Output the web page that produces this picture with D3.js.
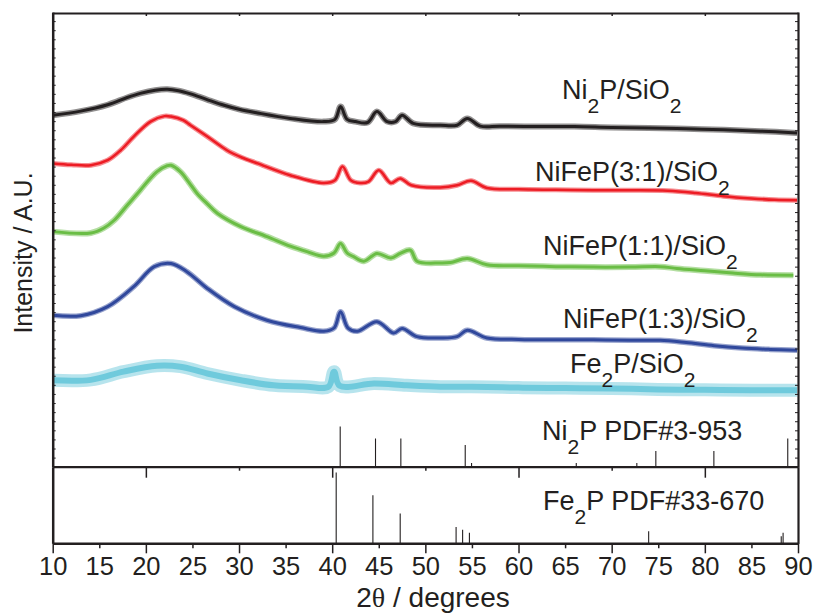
<!DOCTYPE html>
<html>
<head>
<meta charset="utf-8">
<script src="https://cdn.jsdelivr.net/npm/d3@7"></script>
<style>
  html, body { margin: 0; padding: 0; background: #fff; }
  svg { display: block; font-family: "Liberation Sans", Arial, Helvetica, sans-serif; }
</style>
</head>
<body>
<svg id="chart" width="819" height="614"></svg>
<script>
// ---------------- data ----------------
// 2θ tick labels
const xTicks = [10, 15, 20, 25, 30, 35, 40, 45, 50, 55, 60, 65, 70, 75, 80, 85, 90];

// XRD traces: [2θ (deg), intensity (a.u., stacked offsets included)]
const ni2pSiO2 = [
  [10, 77.3], [13, 78.2], [15.9, 79.6], [18, 81.2], [19.4, 82.1], [21, 82.8], [22.3, 83.0],
  [23.5, 82.7], [24.8, 82.0], [26.5, 80.8], [28.4, 79.5], [30, 78.6], [32, 77.8], [35.5, 76.6],
  [39.1, 75.9], [40.3, 76.4], [40.9, 79.2], [41.6, 76.4], [42.5, 75.9], [43.8, 75.7], [44.8, 78.1],
  [45.9, 75.9], [46.8, 75.9], [47.5, 77.3], [48.7, 75.5], [51.6, 75.1], [53.4, 75.1], [54.5, 76.6],
  [55.9, 74.9], [58, 74.9], [62, 74.8], [66, 74.8], [70, 74.6], [74, 74.5], [78, 74.3],
  [82, 74.1], [86, 73.8], [89.9, 73.4]
];
const nifep31SiO2 = [
  [10, 66.7], [12, 66.4], [14.1, 66.3], [15.9, 67.4], [17.3, 69.6], [18.7, 72.6], [20.5, 75.9],
  [22.0, 77.1], [22.7, 77.0], [24.0, 76.2], [24.8, 75.1], [26.6, 72.6], [28.7, 69.6], [30.3, 68.0],
  [32, 66.7], [35.5, 64.1], [39.1, 62.4], [40.3, 63.0], [41.1, 66.0], [42, 63.0], [43.0, 62.4],
  [43.9, 62.7], [45.0, 65.2], [46.3, 62.4], [47.3, 63.4], [48.5, 61.9], [51.6, 61.4], [53.4, 61.9],
  [54.9, 62.9], [56.6, 61.3], [60, 61.0], [64, 60.9], [68, 60.8], [72, 60.8], [76, 60.7],
  [79, 60.2], [82, 59.5], [85, 59.0], [87.5, 58.7], [89.9, 58.6]
];
const nifep11SiO2 = [
  [10, 51.7], [14.1, 51.4], [15.5, 52.5], [16.6, 54.2], [18, 57.5], [19.4, 60.8], [20.3, 63.0],
  [21.2, 64.9], [22.3, 66.2], [22.7, 66.3], [23.7, 64.9], [24.6, 62.6], [25.5, 60.1], [26.6, 57.8],
  [27.7, 55.7], [30.2, 52.8], [33.0, 50.6], [35.5, 48.5], [37.3, 47.3], [39.1, 46.3], [40.2, 47.0],
  [40.9, 49.1], [41.6, 47.0], [42.3, 46.2], [43.4, 45.2], [44.8, 46.9], [46.3, 45.9], [47.3, 46.9],
  [48.4, 47.6], [49.1, 45.2], [51.6, 44.8], [52.7, 44.9], [54.5, 45.8], [56.6, 44.4], [60, 44.2],
  [64, 44.0], [68, 43.9], [72, 43.9], [75.2, 44.0], [77, 43.6], [80, 43.1], [83, 42.6],
  [86, 42.2], [89.5, 42.1]
];
const nifep13SiO2 = [
  [10, 33.3], [13.0, 33.2], [15.9, 35.2], [18.7, 39.6], [20.9, 44.0], [22.7, 44.7], [24.4, 42.9],
  [26.6, 39.2], [29.5, 35.2], [33.0, 32.2], [36.6, 30.6], [39.1, 29.8], [40.2, 30.5], [40.9, 34.1],
  [41.7, 30.5], [42.7, 29.8], [44.8, 31.9], [46.6, 29.4], [47.5, 30.4], [49.1, 28.6], [51.6, 28.3],
  [53.4, 28.6], [54.5, 30.0], [56.6, 28.3], [60, 28.0], [64, 27.9], [68, 27.9], [72, 27.8],
  [75.2, 27.8], [78, 27.3], [81, 26.6], [84, 26.1], [87, 25.8], [89.9, 25.6]
];
const fe2pSiO2 = [
  [10, 19.0], [14.1, 19.1], [17.6, 20.9], [21.2, 22.2], [23.7, 22.0], [26.6, 20.5], [30.2, 19.0],
  [33.7, 17.9], [37.3, 17.6], [39.6, 17.6], [40.2, 20.9], [40.8, 17.8], [44.5, 18.3], [48, 17.9],
  [51.6, 17.6], [55, 17.6], [60, 17.4], [65, 17.3], [70, 17.2], [75, 17.0], [80, 16.9],
  [85, 16.8], [89.9, 16.8]
];

// Reference patterns: [2θ (deg), relative intensity %]
const ni2pPdf3953 = [
  [40.86, 100], [44.65, 70], [47.37, 70], [54.28, 54], [54.96, 9], [66.2, 9],
  [72.7, 9], [74.74, 39], [80.97, 39], [88.9, 70]
];
const fe2pPdf33670 = [
  [40.43, 100], [44.37, 68], [47.3, 42], [53.3, 23], [54.0, 19], [54.73, 15],
  [73.97, 17], [88.2, 10], [88.4, 15]
];

// Label texts, split into [text, isSubscript] runs
const sampleLabels = [
  [["Ni", 0], ["2", 1], ["P/SiO", 0], ["2", 1]],
  [["NiFeP(3:1)/SiO", 0], ["2", 1]],
  [["NiFeP(1:1)/SiO", 0], ["2", 1]],
  [["NiFeP(1:3)/SiO", 0], ["2", 1]],
  [["Fe", 0], ["2", 1], ["P/SiO", 0], ["2", 1]]
];
const refLabels = [
  [["Ni", 0], ["2", 1], ["P PDF#3-953", 0]],
  [["Fe", 0], ["2", 1], ["P PDF#33-670", 0]]
];
const xTitle = "2θ / degrees";
const yTitle = "Intensity / A.U.";

// ---------------- layout ----------------
const frame = { left: 52.7, right: 798, top: 13, mid: 466.7, bottom: 543.3 };
const ink = "#231f20";
const traceStyles = [
  { color: "#231f20", outer: 6, inner: 3 },
  { color: "#ed1c24", outer: 5, inner: 2.5 },
  { color: "#6abd45", outer: 6, inner: 3 },
  { color: "#30489c", outer: 5.5, inner: 3 },
  { color: "#6fcadc", outer: 13, inner: 6 }
];
// label anchors in data units: [2θ, intensity]
const sampleLabelAt = [[64.67, 80.9], [61.77, 62.9], [62.63, 46.6], [64.78, 30.5], [65.53, 20.6]];
const refLabelAt = [[62.52, 5.9], [62.63, 47.1]];

const svg = d3.select("#chart");

const x = d3.scaleLinear().domain([10, 90]).range([frame.left, frame.right]);
const yUp = d3.scaleLinear().domain([0, 100]).range([frame.mid, 12]);
const yLow = d3.scaleLinear().domain([0, 100]).range([frame.bottom, frame.mid]);
const yNiRef = d3.scaleLinear().domain([0, 100]).range([frame.mid, frame.mid - 40.3]);
const yFeRef = d3.scaleLinear().domain([0, 100]).range([frame.bottom, frame.bottom - 70.7]);

// ---------------- traces ----------------
const line = d3.line()
  .x(d => x(d[0]))
  .y(d => yUp(d[1]))
  .curve(d3.curveCatmullRom.alpha(0.5));

const traces = [ni2pSiO2, nifep31SiO2, nifep11SiO2, nifep13SiO2, fe2pSiO2];
const gTr = svg.append("g");
traces.forEach((series, i) => {
  const st = traceStyles[i];
  // noise envelope
  gTr.append("path").datum(series)
    .attr("d", line).attr("fill", "none")
    .attr("stroke", st.color).attr("stroke-opacity", 0.5)
    .attr("stroke-width", st.outer).attr("stroke-linejoin", "round");
  gTr.append("path").datum(series)
    .attr("d", line).attr("fill", "none")
    .attr("stroke", st.color)
    .attr("stroke-width", st.inner).attr("stroke-linejoin", "round");
});

// ---------------- reference sticks ----------------
svg.append("g").selectAll("line").data(ni2pPdf3953).join("line")
  .attr("x1", d => x(d[0])).attr("x2", d => x(d[0]))
  .attr("y1", yNiRef(0)).attr("y2", d => yNiRef(d[1]))
  .attr("stroke", ink).attr("stroke-width", 1.1);
svg.append("g").selectAll("line").data(fe2pPdf33670).join("line")
  .attr("x1", d => x(d[0])).attr("x2", d => x(d[0]))
  .attr("y1", yFeRef(0)).attr("y2", d => yFeRef(d[1]))
  .attr("stroke", ink).attr("stroke-width", 1.1);

// ---------------- axes / frame ----------------
function styleAxis(g, w) {
  g.select(".domain").attr("stroke", ink).attr("stroke-width", w);
  g.selectAll(".tick line").attr("stroke", ink).attr("stroke-width", 1.5);
}
const inner10 = d3.range(20, 90, 10);

// bottom axis with labels
const gx = svg.append("g").attr("transform", `translate(0,${frame.bottom})`)
  .call(d3.axisBottom(x).tickValues(xTicks).tickSize(10).tickSizeOuter(0).tickPadding(4)
    .tickFormat(d3.format("d")));
styleAxis(gx, 2.5);
gx.selectAll(".tick").filter(d => d % 10 !== 0).select("line").attr("y2", 5);
gx.selectAll(".tick text").attr("font-size", 25.5).attr("fill", ink)
  .attr("font-family", "'Liberation Sans', Arial, sans-serif");

// panel divider
const gm = svg.append("g").attr("transform", `translate(0,${frame.mid})`)
  .call(d3.axisBottom(x).tickValues(inner10).tickSize(11).tickSizeOuter(0).tickFormat(""));
styleAxis(gm, 2.2);
gm.selectAll(".tick").filter(d => d % 20 !== 0).select("line").attr("y2", 4);

// top border
const gt = svg.append("g").attr("transform", `translate(0,${frame.top})`)
  .call(d3.axisBottom(x).tickValues(inner10).tickSize(3).tickSizeOuter(0).tickFormat(""));
styleAxis(gt, 2);

// left / right borders
const yTickVals = d3.range(2, 100, 2);
const gl = svg.append("g").attr("transform", `translate(${frame.left},0)`)
  .call(d3.axisRight(yUp).tickValues(yTickVals).tickSize(3).tickSizeOuter(0).tickFormat(""));
styleAxis(gl, 2.5);
gl.selectAll(".tick line").attr("stroke-width", 1);
const gl2 = svg.append("g").attr("transform", `translate(${frame.left},0)`)
  .call(d3.axisRight(yLow).tickValues([]).tickSizeOuter(0));
styleAxis(gl2, 2.5);
const gr = svg.append("g").attr("transform", `translate(${frame.right},0)`)
  .call(d3.axisLeft(yUp).tickValues(yTickVals).tickSize(3).tickSizeOuter(0).tickFormat(""));
styleAxis(gr, 2.2);
gr.selectAll(".tick line").attr("stroke-width", 1);
const gr2 = svg.append("g").attr("transform", `translate(${frame.right},0)`)
  .call(d3.axisLeft(yLow).tickValues([]).tickSizeOuter(0));
styleAxis(gr2, 2.2);

// ---------------- labels ----------------
function richText(parent, runs, px, py, size) {
  const t = parent.append("text").attr("x", px).attr("y", py)
    .attr("font-size", size).attr("fill", ink);
  let shifted = false;
  runs.forEach(([s, sub]) => {
    const ts = t.append("tspan").text(s);
    if (sub && !shifted) { ts.attr("dy", 14).attr("font-size", size * 0.78); shifted = true; }
    else if (!sub && shifted) { ts.attr("dy", -14); shifted = false; }
    else if (sub) { ts.attr("font-size", size * 0.78); }
  });
  return t;
}
sampleLabels.forEach((runs, i) => {
  const [a, b] = sampleLabelAt[i];
  richText(svg, runs, x(a), yUp(b), 27);
});
richText(svg, refLabels[0], x(refLabelAt[0][0]), yUp(refLabelAt[0][1]), 27);
richText(svg, refLabels[1], x(refLabelAt[1][0]), yFeRef(refLabelAt[1][1]), 27);

// axis titles
const xt = svg.append("text").attr("x", 433).attr("y", 607)
  .attr("text-anchor", "middle").attr("font-size", 28).attr("fill", ink);
xt.append("tspan").text(xTitle.slice(0, 1));
xt.append("tspan").text(xTitle.slice(1, 2)).attr("font-family", "'Liberation Serif', 'DejaVu Serif', serif");
xt.append("tspan").text(xTitle.slice(2));

svg.append("text")
  .attr("transform", "translate(31.5,253) rotate(-90)")
  .attr("text-anchor", "middle").attr("font-size", 25).attr("fill", ink)
  .text(yTitle);
</script>
</body>
</html>
